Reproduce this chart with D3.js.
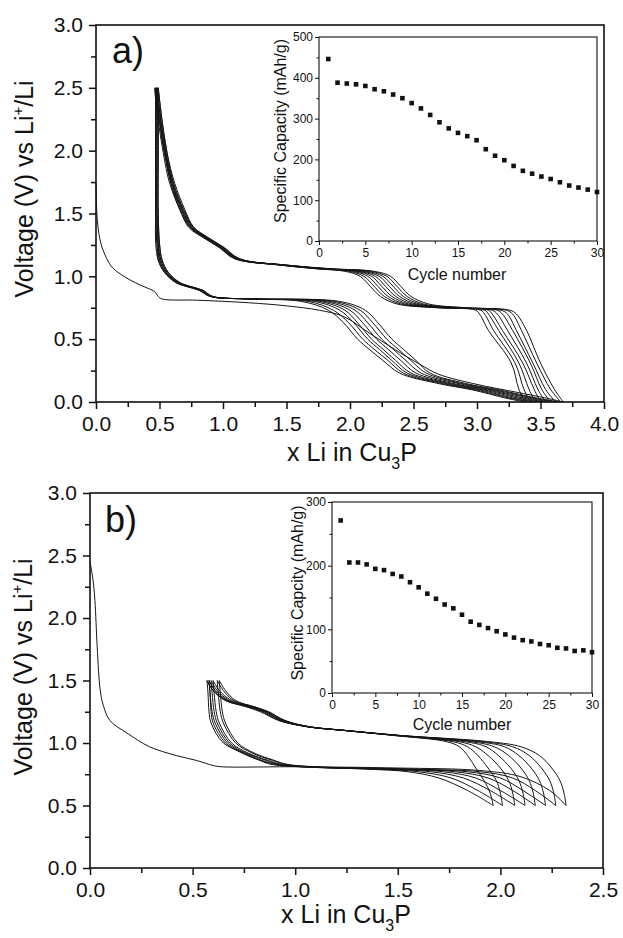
<!DOCTYPE html>
<html>
<head>
<meta charset="utf-8">
<script src="https://cdn.jsdelivr.net/npm/d3@7"></script>
<style>
body { margin: 0; background: #fff; }
svg { display: block; }
text { font-family: "Liberation Sans", Arial, sans-serif; fill: #111; }
.frame { fill: none; stroke: #111; stroke-width: 1.6; }
.iframe { fill: none; stroke: #111; stroke-width: 1.1; }
.curve { fill: none; stroke: #151515; stroke-width: 1; }
</style>
</head>
<body>
<script>
"use strict";

// ---- panel a: voltage profiles (x Li vs V) ----
var A_FIRST = [[0.0,1.75],[0.01,1.45],[0.03,1.3],[0.055,1.21],[0.12,1.08],[0.19,1.02],
    [0.27,0.97],[0.35,0.93],[0.42,0.90],[0.46,0.88],[0.49,0.84],[0.52,0.82],[0.8,0.81],
    [1.2,0.79],[1.5,0.765],[1.76,0.73],[1.95,0.68],[2.15,0.55],[2.35,0.42],[2.55,0.3],
    [2.7,0.22],[3.0,0.14],[3.3,0.08],[3.55,0.03],[3.68,0.0]];

var A_DIS_V = [2.5, 2.0, 1.5, 1.26, 1.13, 1.03, 0.95, 0.92, 0.89, 0.84, 0.82, 0.80,
    0.73, 0.63, 0.50, 0.42, 0.33, 0.23, 0.15, 0.095, 0.03, 0.0];
var A_DIS_X = [
    [0.49,0.49,0.49,0.50,0.52,0.57,0.66,0.74,0.84,0.92,1.25,1.92,2.12,2.22,2.33,2.42,2.52,2.63,2.90,3.18,3.48,3.66],
    [0.49,0.49,0.49,0.50,0.52,0.57,0.66,0.74,0.84,0.92,1.24,1.88,2.08,2.18,2.29,2.38,2.48,2.60,2.87,3.15,3.45,3.62],
    [0.48,0.48,0.48,0.49,0.51,0.56,0.65,0.73,0.83,0.91,1.23,1.84,2.04,2.14,2.25,2.34,2.44,2.56,2.84,3.12,3.41,3.58],
    [0.48,0.48,0.48,0.49,0.51,0.56,0.65,0.73,0.83,0.91,1.23,1.80,2.00,2.10,2.21,2.30,2.40,2.52,2.80,3.09,3.37,3.54],
    [0.48,0.48,0.48,0.49,0.50,0.55,0.64,0.72,0.82,0.91,1.22,1.76,1.96,2.06,2.17,2.26,2.36,2.48,2.77,3.06,3.33,3.50],
    [0.47,0.47,0.47,0.48,0.50,0.55,0.64,0.72,0.82,0.90,1.21,1.72,1.92,2.03,2.14,2.23,2.33,2.45,2.74,3.03,3.29,3.46],
    [0.47,0.47,0.47,0.48,0.49,0.54,0.63,0.71,0.81,0.90,1.21,1.67,1.87,1.99,2.10,2.19,2.30,2.42,2.71,3.00,3.26,3.42],
    [0.47,0.47,0.47,0.47,0.49,0.54,0.63,0.71,0.81,0.90,1.20,1.62,1.83,1.95,2.06,2.15,2.26,2.39,2.68,2.97,3.23,3.38]
];

var A_CHG_V = [0.0, 0.1, 0.31, 0.57, 0.7, 0.73, 0.75, 0.78, 0.84, 0.92, 1.0, 1.04, 1.06,
    1.09, 1.14, 1.23, 1.31, 1.39, 1.53, 1.74, 1.98, 2.24, 2.5];
var A_CHG_X = [
    [3.68,3.61,3.50,3.39,3.31,3.26,2.92,2.62,2.48,2.40,2.32,2.19,1.86,1.50,1.13,1.01,0.88,0.77,0.70,0.62,0.56,0.52,0.49],
    [3.66,3.58,3.47,3.35,3.28,3.23,2.89,2.58,2.45,2.37,2.29,2.16,1.84,1.49,1.13,1.00,0.88,0.77,0.69,0.61,0.56,0.52,0.49],
    [3.62,3.54,3.44,3.31,3.24,3.19,2.86,2.55,2.42,2.34,2.26,2.13,1.82,1.48,1.12,1.00,0.87,0.76,0.69,0.61,0.55,0.51,0.48],
    [3.58,3.51,3.42,3.28,3.20,3.16,2.83,2.52,2.39,2.31,2.23,2.10,1.81,1.48,1.12,0.99,0.87,0.76,0.68,0.60,0.55,0.51,0.48],
    [3.54,3.48,3.39,3.24,3.16,3.12,2.80,2.49,2.36,2.28,2.20,2.07,1.79,1.47,1.11,0.99,0.86,0.75,0.68,0.60,0.55,0.51,0.48],
    [3.50,3.45,3.36,3.20,3.12,3.09,2.77,2.46,2.33,2.25,2.17,2.05,1.78,1.46,1.11,0.98,0.86,0.75,0.67,0.60,0.54,0.50,0.47],
    [3.46,3.41,3.33,3.17,3.09,3.06,2.74,2.43,2.30,2.22,2.14,2.02,1.76,1.46,1.10,0.98,0.85,0.74,0.67,0.59,0.54,0.50,0.47],
    [3.42,3.37,3.30,3.13,3.06,3.03,2.71,2.40,2.27,2.19,2.11,1.99,1.75,1.45,1.10,0.97,0.85,0.74,0.66,0.59,0.54,0.50,0.47],
    [3.38,3.33,3.27,3.09,3.02,2.99,2.68,2.37,2.24,2.16,2.08,1.96,1.73,1.44,1.09,0.97,0.84,0.73,0.66,0.58,0.53,0.49,0.46]
];

// ---- panel b ----
var B_FIRST = [[0.0,2.45],[0.015,2.3],[0.024,2.14],[0.035,1.77],[0.05,1.42],[0.065,1.3],
    [0.097,1.18],[0.18,1.08],[0.29,0.97],[0.42,0.9],[0.52,0.86],[0.6,0.82],[0.64,0.81],
    [1.0,0.81],[1.5,0.80],[1.9,0.78],[2.1,0.73],[2.24,0.62],[2.32,0.5]];

var B_DIS_V = [1.5, 1.4, 1.25, 1.16, 1.0, 0.92, 0.86, 0.83, 0.81, 0.79, 0.77, 0.72, 0.62, 0.5];
var B_DIS_X = [
    [0.63,0.635,0.645,0.66,0.72,0.80,0.90,0.96,1.10,1.60,1.90,2.06,2.17,2.27],
    [0.62,0.625,0.635,0.65,0.71,0.79,0.89,0.95,1.08,1.56,1.84,2.00,2.11,2.22],
    [0.60,0.605,0.615,0.63,0.69,0.77,0.87,0.93,1.06,1.52,1.78,1.94,2.06,2.17],
    [0.59,0.595,0.605,0.62,0.68,0.76,0.86,0.92,1.05,1.48,1.72,1.88,2.00,2.12],
    [0.58,0.585,0.595,0.61,0.67,0.75,0.84,0.91,1.04,1.44,1.66,1.82,1.95,2.07],
    [0.58,0.585,0.59,0.60,0.66,0.74,0.83,0.90,1.03,1.40,1.60,1.76,1.89,2.01],
    [0.57,0.575,0.58,0.59,0.65,0.75,0.83,0.88,1.02,1.36,1.55,1.70,1.84,1.965]
];

var B_CHG_V = [0.5, 0.6, 0.7, 0.8, 0.9, 0.97, 1.01, 1.06, 1.1, 1.13, 1.18, 1.25, 1.29, 1.34, 1.42, 1.5];
var B_CHG_X = [
    [2.32,2.31,2.29,2.25,2.19,2.10,1.95,1.52,1.25,1.07,0.95,0.87,0.80,0.71,0.66,0.63],
    [2.27,2.26,2.24,2.20,2.14,2.06,1.92,1.51,1.25,1.07,0.95,0.87,0.80,0.70,0.65,0.62],
    [2.22,2.21,2.19,2.15,2.09,2.02,1.89,1.51,1.25,1.07,0.94,0.86,0.79,0.69,0.63,0.60],
    [2.17,2.16,2.14,2.10,2.04,1.97,1.86,1.50,1.24,1.06,0.94,0.86,0.78,0.68,0.62,0.59],
    [2.12,2.11,2.09,2.05,1.99,1.93,1.83,1.50,1.24,1.06,0.93,0.85,0.78,0.67,0.61,0.58],
    [2.07,2.06,2.04,2.00,1.94,1.88,1.80,1.49,1.24,1.06,0.93,0.85,0.77,0.67,0.61,0.58],
    [2.01,2.00,1.98,1.94,1.89,1.84,1.77,1.49,1.24,1.06,0.92,0.84,0.77,0.66,0.60,0.57],
    [1.965,1.95,1.92,1.88,1.84,1.80,1.74,1.48,1.24,1.06,0.92,0.83,0.76,0.66,0.60,0.57]
];

// ---- insets: capacity vs cycle ----
var CYCLES = [1,2,3,4,5,6,7,8,9,10,11,12,13,14,15,16,17,18,19,20,21,22,23,24,25,26,27,28,29,30];
var A_CAP = [446,388,386,384,380,372,367,359,350,338,325,309,291,276,265,257,247,225,209,198,
    184,172,165,158,152,144,136,131,126,120];
var B_CAP = [271,205,205,202,195,193,187,183,174,166,156,148,139,133,123,112,107,102,97,92,
    87,83,81,77,75,71,70,66,67,64];

// ticks
var V_TICKS = [0, 0.5, 1.0, 1.5, 2.0, 2.5, 3.0];
var V_MINOR = [0.25, 0.75, 1.25, 1.75, 2.25, 2.75];
var A_X_TICKS = [0, 0.5, 1.0, 1.5, 2.0, 2.5, 3.0, 3.5, 4.0];
var A_X_MINOR = [0.25, 0.75, 1.25, 1.75, 2.25, 2.75, 3.25, 3.75];
var B_X_TICKS = [0, 0.5, 1.0, 1.5, 2.0, 2.5];
var B_X_MINOR = [0.25, 0.75, 1.25, 1.75, 2.25];
var CYC_TICKS = [0, 5, 10, 15, 20, 25, 30];
var CYC_MINOR = [2.5, 7.5, 12.5, 17.5, 22.5, 27.5];
var A_CAP_TICKS = [0, 100, 200, 300, 400, 500];
var A_CAP_MINOR = [50, 150, 250, 350, 450];
var B_CAP_TICKS = [0, 100, 200, 300];
var B_CAP_MINOR = [50, 150, 250];

var svg = d3.select("body").append("svg")
    .attr("width", 623).attr("height", 938);

function style_axis(g, font_size, width) {
    g.select(".domain").remove();
    g.attr("font-family", null).attr("font-size", null);
    g.selectAll(".tick line").attr("stroke", "#111").attr("stroke-width", width);
    g.selectAll(".tick text").attr("fill", "#111").style("font-size", font_size + "px");
}

function add_axes(cfg, x, y) {
    var fx = d3.format(cfg.fmt_x), fy = d3.format(cfg.fmt_y);
    // x axis
    svg.append("g")
        .attr("transform", "translate(0," + y.range()[0] + ")")
        .call(d3.axisBottom(x).tickValues(cfg.x_minor).tickSize(cfg.minor).tickFormat(""))
        .call(style_axis, cfg.font, cfg.tw);
    svg.append("g")
        .attr("transform", "translate(0," + y.range()[0] + ")")
        .call(d3.axisBottom(x).tickValues(cfg.x_ticks).tickSize(cfg.major)
            .tickPadding(cfg.pad_x).tickFormat(fx))
        .call(style_axis, cfg.font, cfg.tw);
    // y axis
    svg.append("g")
        .attr("transform", "translate(" + x.range()[0] + ",0)")
        .call(d3.axisLeft(y).tickValues(cfg.y_minor).tickSize(cfg.minor).tickFormat(""))
        .call(style_axis, cfg.font, cfg.tw);
    svg.append("g")
        .attr("transform", "translate(" + x.range()[0] + ",0)")
        .call(d3.axisLeft(y).tickValues(cfg.y_ticks).tickSize(cfg.major)
            .tickPadding(cfg.pad_y).tickFormat(fy))
        .call(style_axis, cfg.font, cfg.tw);
    // frame
    svg.append("rect")
        .attr("class", cfg.frame)
        .attr("x", x.range()[0]).attr("y", y.range()[1])
        .attr("width", x.range()[1] - x.range()[0])
        .attr("height", y.range()[0] - y.range()[1]);
}

function draw_main(cfg) {
    var x = d3.scaleLinear().domain(cfg.xdom).range(cfg.xr);
    var y = d3.scaleLinear().domain([0, 3]).range(cfg.yr);

    var line = d3.line()
        .x(function(d) { return x(d[0]); })
        .y(function(d) { return y(d[1]); })
        .curve(d3.curveCatmullRom.alpha(0.5));

    var curves = [cfg.first]
        .concat(cfg.dis_x.map(function(xs) { return d3.zip(xs, cfg.dis_v); }))
        .concat(cfg.chg_x.map(function(xs) { return d3.zip(xs, cfg.chg_v); }));

    svg.append("g").selectAll("path")
        .data(curves)
        .enter()
        .append("path")
        .attr("class", "curve")
        .attr("d", line);

    add_axes({
        x_ticks: cfg.x_ticks, x_minor: cfg.x_minor, y_ticks: V_TICKS, y_minor: V_MINOR,
        fmt_x: ".1f", fmt_y: ".1f", major: 7, minor: 5, pad_x: 7, pad_y: 6,
        font: 21, tw: 1.5, frame: "frame"
    }, x, y);

    // panel letter
    svg.append("text")
        .attr("x", cfg.letter[0]).attr("y", cfg.letter[1])
        .style("font-size", "36px")
        .text(cfg.letter[2]);

    // x title
    var xt = svg.append("text")
        .attr("x", cfg.xtitle[0]).attr("y", cfg.xtitle[1])
        .attr("text-anchor", "middle")
        .style("font-size", "25px");
    xt.append("tspan").text("x Li in Cu");
    xt.append("tspan").attr("dy", 8).style("font-size", "16px").text("3");
    xt.append("tspan").attr("dy", -8).text("P");

    // y title
    var yt = svg.append("text")
        .attr("transform", "translate(" + cfg.ytitle[0] + "," + cfg.ytitle[1] + ") rotate(-90)")
        .attr("text-anchor", "middle")
        .style("font-size", "25px");
    yt.append("tspan").text("Voltage (V) vs Li");
    yt.append("tspan").attr("dy", -10).style("font-size", "15px").text("+");
    yt.append("tspan").attr("dy", 10).text("/Li");
}

function draw_inset(cfg) {
    var x = d3.scaleLinear().domain([0, 30]).range(cfg.xr);
    var y = d3.scaleLinear().domain(cfg.ydom).range(cfg.yr);

    add_axes({
        x_ticks: CYC_TICKS, x_minor: CYC_MINOR, y_ticks: cfg.y_ticks, y_minor: cfg.y_minor,
        fmt_x: "d", fmt_y: "d", major: 4, minor: 2.5, pad_x: 3.5, pad_y: 2,
        font: 12, tw: 1, frame: "iframe"
    }, x, y);

    var sym = d3.symbol().type(d3.symbolSquare).size(21);
    svg.append("g").selectAll("path")
        .data(d3.zip(CYCLES, cfg.cap))
        .enter()
        .append("path")
        .attr("transform", function(d) {
            return "translate(" + x(d[0]) + "," + y(d[1]) + ")";
        })
        .attr("d", sym)
        .attr("fill", "#111");

    svg.append("text")
        .attr("x", cfg.xtitle[0]).attr("y", cfg.xtitle[1])
        .attr("text-anchor", "middle")
        .style("font-size", "16px")
        .text("Cycle number");

    svg.append("text")
        .attr("transform", "translate(" + cfg.ytitle[0] + "," + cfg.ytitle[1] + ") rotate(-90)")
        .attr("text-anchor", "middle")
        .style("font-size", "16px")
        .text(cfg.ylabel);
}

draw_main({
    xdom: [0, 4], xr: [96, 604], yr: [402, 25],
    first: A_FIRST, dis_v: A_DIS_V, dis_x: A_DIS_X, chg_v: A_CHG_V, chg_x: A_CHG_X,
    x_ticks: A_X_TICKS, x_minor: A_X_MINOR,
    letter: [112, 63, "a)"], xtitle: [352, 461], ytitle: [33, 189]
});
draw_inset({
    xr: [319, 597], ydom: [0, 500], yr: [241, 37],
    y_ticks: A_CAP_TICKS, y_minor: A_CAP_MINOR, cap: A_CAP,
    xtitle: [457, 280], ytitle: [286, 131], ylabel: "Specific Capacity (mAh/g)"
});

draw_main({
    xdom: [0, 2.5], xr: [90, 603], yr: [868, 493],
    first: B_FIRST, dis_v: B_DIS_V, dis_x: B_DIS_X, chg_v: B_CHG_V, chg_x: B_CHG_X,
    x_ticks: B_X_TICKS, x_minor: B_X_MINOR,
    letter: [105, 532, "b)"], xtitle: [346, 923], ytitle: [32, 667]
});
draw_inset({
    xr: [332, 592], ydom: [0, 300], yr: [693, 502],
    y_ticks: B_CAP_TICKS, y_minor: B_CAP_MINOR, cap: B_CAP,
    xtitle: [462, 730], ytitle: [303, 593], ylabel: "Specific Capcity (mAh/g)"
});
</script>
</body>
</html>
